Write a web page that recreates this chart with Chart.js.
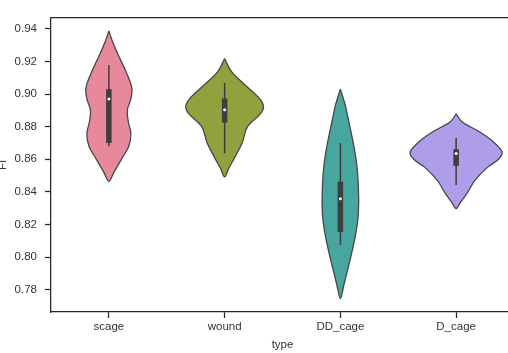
<!DOCTYPE html>
<html>
<head>
<meta charset="utf-8">
<script src="https://cdn.jsdelivr.net/npm/chart.js@4.4.0/dist/chart.umd.min.js"></script>
<style>
  html, body { margin: 0; padding: 0; background: #fff; overflow: hidden; width: 508px; height: 353px; }
  #wrap { width: 520px; height: 353px; }
</style>
</head>
<body>
<div id="wrap"><canvas id="chart" width="520" height="353"></canvas></div>
<script>
// Groups along the x axis
const categories = ['scage', 'wound', 'DD_cage', 'D_cage'];
const yTickValues = [0.78, 0.80, 0.82, 0.84, 0.86, 0.88, 0.90, 0.92, 0.94];

// Kernel-density outlines: FI levels (top to bottom) and half-widths in category units
const scageLevels = [0.9386, 0.9317, 0.9237, 0.9138, 0.9038, 0.8970, 0.8900, 0.8830, 0.8760, 0.8680, 0.8600, 0.8520, 0.8465];
const scageHalf   = [0,      0.034,  0.082,  0.147,  0.198,  0.190,  0.159,  0.168,  0.190,  0.172,  0.108,  0.043,  0];

const woundLevels = [0.9217, 0.9138, 0.9058, 0.8979, 0.8925, 0.8880, 0.8800, 0.8700, 0.8621, 0.8542, 0.8492];
const woundHalf   = [0,      0.058,  0.172,  0.293,  0.336,  0.310,  0.198,  0.151,  0.095,  0.034,  0];

const ddLevels = [0.9029, 0.8980, 0.8930, 0.8830, 0.8730, 0.8630, 0.8530, 0.8430, 0.8330, 0.8230, 0.8130, 0.8030, 0.7930, 0.7830, 0.7747];
const ddHalf   = [0,      0.022,  0.043,  0.073,  0.103,  0.129,  0.147,  0.155,  0.158,  0.151,  0.129,  0.099,  0.065,  0.030,  0];

const dLevels = [0.8878, 0.8830, 0.8770, 0.8710, 0.8645, 0.8600, 0.8552, 0.8472, 0.8393, 0.8333, 0.8298];
const dHalf   = [0,      0.050,  0.198,  0.316,  0.397,  0.366,  0.273,  0.164,  0.095,  0.034,  0];

// Inner box summaries per group
const whiskerLow  = [0.8680, 0.8637, 0.8075, 0.8442];
const whiskerHigh = [0.9178, 0.9068, 0.8700, 0.8730];
const quartile1   = [0.8700, 0.8826, 0.8154, 0.8561];
const quartile3   = [0.9029, 0.8973, 0.8462, 0.8661];
const medians     = [0.8969, 0.8903, 0.8359, 0.8635];

const fillColors = ['#e8899b', '#93a03e', '#47a69d', '#ae9ee9'];
const edgeColor = '#474747';
const innerColor = '#3d3d3d';
const inkColor = '#262626';

const outlines = [
  [scageLevels, scageHalf],
  [woundLevels, woundHalf],
  [ddLevels, ddHalf],
  [dLevels, dHalf]
];

// Closed outline: down the right side, back up the left side
function violinPoints(index, levels, half) {
  const pts = [];
  for (let k = 0; k < levels.length; k++) pts.push({ x: index + half[k], y: levels[k] });
  for (let k = levels.length - 2; k >= 0; k--) pts.push({ x: index - half[k], y: levels[k] });
  return pts;
}

function segmentPoints(lo, hi) {
  const pts = [];
  categories.forEach((_, i) => {
    pts.push({ x: i, y: lo[i] }, { x: i, y: hi[i] }, { x: i, y: null });
  });
  return pts;
}

const datasets = outlines.map(([levels, half], i) => ({
  type: 'line',
  data: violinPoints(i, levels, half),
  backgroundColor: fillColors[i],
  borderColor: edgeColor,
  borderWidth: 1.3,
  fill: 'shape',
  tension: 0.35,
  pointRadius: 0,
  order: 3
}));

datasets.push({
  type: 'line',
  data: segmentPoints(whiskerLow, whiskerHigh),
  borderColor: innerColor,
  borderWidth: 1.5,
  borderCapStyle: 'butt',
  spanGaps: false,
  fill: false,
  pointRadius: 0,
  tension: 0,
  order: 2
});

datasets.push({
  type: 'line',
  data: segmentPoints(quartile1, quartile3),
  borderColor: innerColor,
  borderWidth: 5.5,
  borderCapStyle: 'butt',
  spanGaps: false,
  fill: false,
  pointRadius: 0,
  tension: 0,
  order: 1
});

datasets.push({
  type: 'scatter',
  data: medians.map((m, i) => ({ x: i, y: m })),
  backgroundColor: '#ffffff',
  borderWidth: 0,
  pointRadius: 1.5,
  order: 0
});

const tickFont = { family: "'Liberation Sans', Arial, sans-serif", size: 11.5 };

new Chart(document.getElementById('chart'), {
  type: 'line',
  data: { datasets },
  options: {
    responsive: false,
    animation: false,
    events: [],
    layout: { padding: { top: 10, right: 6, bottom: 0, left: 0 } },
    plugins: { legend: { display: false }, tooltip: { enabled: false } },
    scales: {
      x: {
        type: 'linear',
        position: 'bottom',
        min: -0.5,
        max: 3.5,
        afterBuildTicks: s => { s.ticks = categories.map((_, i) => ({ value: i })); },
        afterFit: s => { s.height = 41; },
        ticks: {
          callback: v => categories[v],
          font: tickFont,
          color: '#333',
          padding: 2,
          maxRotation: 0,
          autoSkip: false
        },
        grid: { drawOnChartArea: false, drawTicks: true, tickLength: 6, tickColor: inkColor, tickWidth: 1.25 },
        border: { display: true, color: inkColor, width: 1.25 },
        title: {
          display: true,
          text: 'type',
          font: tickFont,
          color: '#333',
          padding: { top: 0, bottom: 1.6 }
        }
      },
      xTop: {
        type: 'linear',
        position: 'top',
        min: -0.5,
        max: 3.5,
        ticks: { display: false },
        grid: { display: false },
        border: { display: true, color: inkColor, width: 1.25 }
      },
      y: {
        type: 'linear',
        min: 0.76646,
        max: 0.94656,
        afterBuildTicks: s => { s.ticks = yTickValues.map(v => ({ value: v })); },
        afterFit: s => { s.width = 51; },
        ticks: {
          callback: v => v.toFixed(2),
          font: tickFont,
          color: '#333',
          padding: 8,
          autoSkip: false
        },
        grid: { drawOnChartArea: false, drawTicks: true, tickLength: 6, tickColor: inkColor, tickWidth: 1.25 },
        border: { display: true, color: inkColor, width: 1.25 },
        title: {
          display: true,
          text: 'FI',
          font: { family: "'Liberation Sans', Arial, sans-serif", size: 11.5, lineHeight: '6px' },
          color: '#333',
          padding: { top: 0, bottom: 0 }
        }
      }
    }
  }
});
</script>
</body>
</html>
